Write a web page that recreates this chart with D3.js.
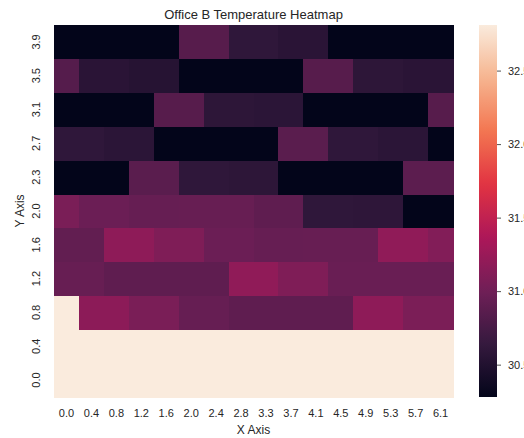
<!DOCTYPE html>
<html>
<head>
<meta charset="utf-8">
<script src="https://cdn.jsdelivr.net/npm/d3@7"></script>
<style>
  html, body { margin: 0; padding: 0; background: #ffffff; overflow: hidden; }
  svg { display: block; font-family: "Liberation Sans", Arial, sans-serif; }
</style>
</head>
<body>
<svg id="chart" width="524" height="438"></svg>
<script>
// Grid coordinates
const xLabels = ["0.0","0.4","0.8","1.2","1.6","2.0","2.4","2.8","3.3","3.7","4.1","4.5","4.9","5.3","5.7","6.1"];
const yLabels = ["0.0","0.4","0.8","1.2","1.6","2.0","2.3","2.7","3.1","3.5","3.9"];

// Temperature readings (°C), one array per Y position, left to right along X
const rowY00 = [32.81,32.81,32.81,32.81,32.81,32.81,32.81,32.81,32.81,32.81,32.81,32.81,32.81,32.81,32.81,32.81];
const rowY04 = [32.81,32.81,32.81,32.81,32.81,32.81,32.81,32.81,32.81,32.81,32.81,32.81,32.81,32.81,32.81,32.81];
const rowY08 = [32.81,31.17,31.17,31.06,31.06,30.94,30.94,30.90,30.90,30.90,30.90,30.90,31.18,31.18,31.07,31.07];
const rowY12 = [30.95,30.95,30.90,30.90,30.90,30.90,30.90,31.19,31.19,31.09,31.09,30.96,30.96,30.96,30.96,30.96];
const rowY16 = [30.92,30.92,31.18,31.18,31.09,31.09,30.97,30.97,30.94,30.94,30.95,30.95,30.95,31.19,31.19,31.11];
const rowY20 = [31.06,30.97,30.97,30.94,30.94,30.95,30.95,30.95,30.90,30.90,30.60,30.60,30.59,30.59,30.28,30.28];
const rowY23 = [30.28,30.28,30.28,30.87,30.87,30.60,30.60,30.58,30.58,30.28,30.28,30.28,30.28,30.28,30.88,30.88];
const rowY27 = [30.60,30.60,30.57,30.57,30.28,30.28,30.28,30.28,30.28,30.87,30.87,30.60,30.60,30.57,30.57,30.28];
const rowY31 = [30.28,30.28,30.28,30.28,30.85,30.85,30.58,30.58,30.57,30.57,30.28,30.28,30.28,30.28,30.28,30.85];
const rowY35 = [30.84,30.56,30.56,30.53,30.53,30.28,30.28,30.28,30.28,30.28,30.85,30.85,30.58,30.58,30.56,30.56];
const rowY39 = [30.28,30.28,30.28,30.28,30.28,30.85,30.85,30.60,30.60,30.56,30.56,30.28,30.28,30.28,30.28,30.28];

const rows = [rowY00,rowY04,rowY08,rowY12,rowY16,rowY20,rowY23,rowY27,rowY31,rowY35,rowY39];

// Colour bar ticks
const cbarTicks = [30.5, 31.0, 31.5, 32.0, 32.5];

// "rocket" colour map stops
const rocketStops = ["#03051a","#35193e","#701f57","#ad1759","#e13342","#f37651","#f6b48f","#faebdd"];

const cells = [];
rows.forEach((vals, yi) => vals.forEach((v, xi) => cells.push({x: xLabels[xi], y: yLabels[yi], v})));

const svg = d3.select("#chart");
const plotLeft = 54, plotTop = 25, plotW = 399, plotH = 372;
const textColor = "#262626";
const font = "'Liberation Sans', Arial, sans-serif";

const x = d3.scaleBand().domain(xLabels).range([plotLeft, plotLeft + plotW]);
const y = d3.scaleBand().domain(yLabels.slice().reverse()).range([plotTop, plotTop + plotH]);

const vmin = d3.min(cells, d => d.v), vmax = d3.max(cells, d => d.v);
const stopT = rocketStops.map((_, i) => i / (rocketStops.length - 1));
const rocket = d3.scaleLinear().domain(stopT).range(rocketStops).interpolate(d3.interpolateRgb).clamp(true);
const color = v => rocket((v - vmin) / (vmax - vmin));

// Heatmap cells
svg.append("g").selectAll("rect")
  .data(cells)
  .join("rect")
  .attr("x", d => x(d.x))
  .attr("y", d => y(d.y))
  .attr("width", x.bandwidth() + 0.5)
  .attr("height", y.bandwidth() + 0.5)
  .attr("fill", d => color(d.v))
  .attr("shape-rendering", "crispEdges");

// X axis
const xAxis = svg.append("g")
  .attr("transform", `translate(0,${plotTop + plotH})`)
  .call(d3.axisBottom(x).tickSize(0).tickPadding(12));
xAxis.select(".domain").remove();
xAxis.selectAll("text").attr("fill", textColor).style("font-size", "11px").style("font-family", font);

// Y axis with rotated tick labels
const yAxis = svg.append("g")
  .attr("transform", `translate(${plotLeft},0)`)
  .call(d3.axisLeft(y).tickSize(0).tickPadding(0));
yAxis.select(".domain").remove();
yAxis.selectAll("text")
  .attr("x", null).attr("dy", null)
  .attr("text-anchor", "middle")
  .attr("transform", "translate(-14,0) rotate(-90)")
  .attr("fill", textColor).style("font-size", "11px").style("font-family", font);

// Axis titles and chart title
svg.append("text")
  .attr("x", plotLeft + plotW / 2).attr("y", 434)
  .attr("text-anchor", "middle").attr("fill", textColor)
  .style("font-size", "12px").text("X Axis");

svg.append("text")
  .attr("transform", `translate(24,${plotTop + plotH / 2}) rotate(-90)`)
  .attr("text-anchor", "middle").attr("fill", textColor)
  .style("font-size", "12px").text("Y Axis");

svg.append("text")
  .attr("x", plotLeft + plotW / 2).attr("y", 19)
  .attr("text-anchor", "middle").attr("fill", textColor)
  .style("font-size", "13px").text("Office B Temperature Heatmap");

// Colour bar
const cbX = 479, cbW = 18;
const cbScale = d3.scaleLinear().domain([vmin, vmax]).range([plotTop + plotH, plotTop]);
const defs = svg.append("defs");
const grad = defs.append("linearGradient").attr("id", "rocketGrad")
  .attr("x1", 0).attr("y1", 1).attr("x2", 0).attr("y2", 0);
d3.range(0, 1.0001, 0.02).forEach(t => {
  grad.append("stop").attr("offset", t).attr("stop-color", rocket(t));
});
svg.append("rect")
  .attr("x", cbX).attr("y", plotTop).attr("width", cbW).attr("height", plotH)
  .attr("fill", "url(#rocketGrad)");

const cbAxis = svg.append("g")
  .attr("transform", `translate(${cbX + cbW},0)`)
  .call(d3.axisRight(cbScale).tickValues(cbarTicks).tickFormat(d3.format(".1f")).tickSize(4).tickPadding(7));
cbAxis.select(".domain").remove();
cbAxis.selectAll("line").attr("stroke", textColor).attr("stroke-width", 0.8);
cbAxis.selectAll("text").attr("fill", textColor).style("font-size", "11px").style("font-family", font);
</script>
</body>
</html>
